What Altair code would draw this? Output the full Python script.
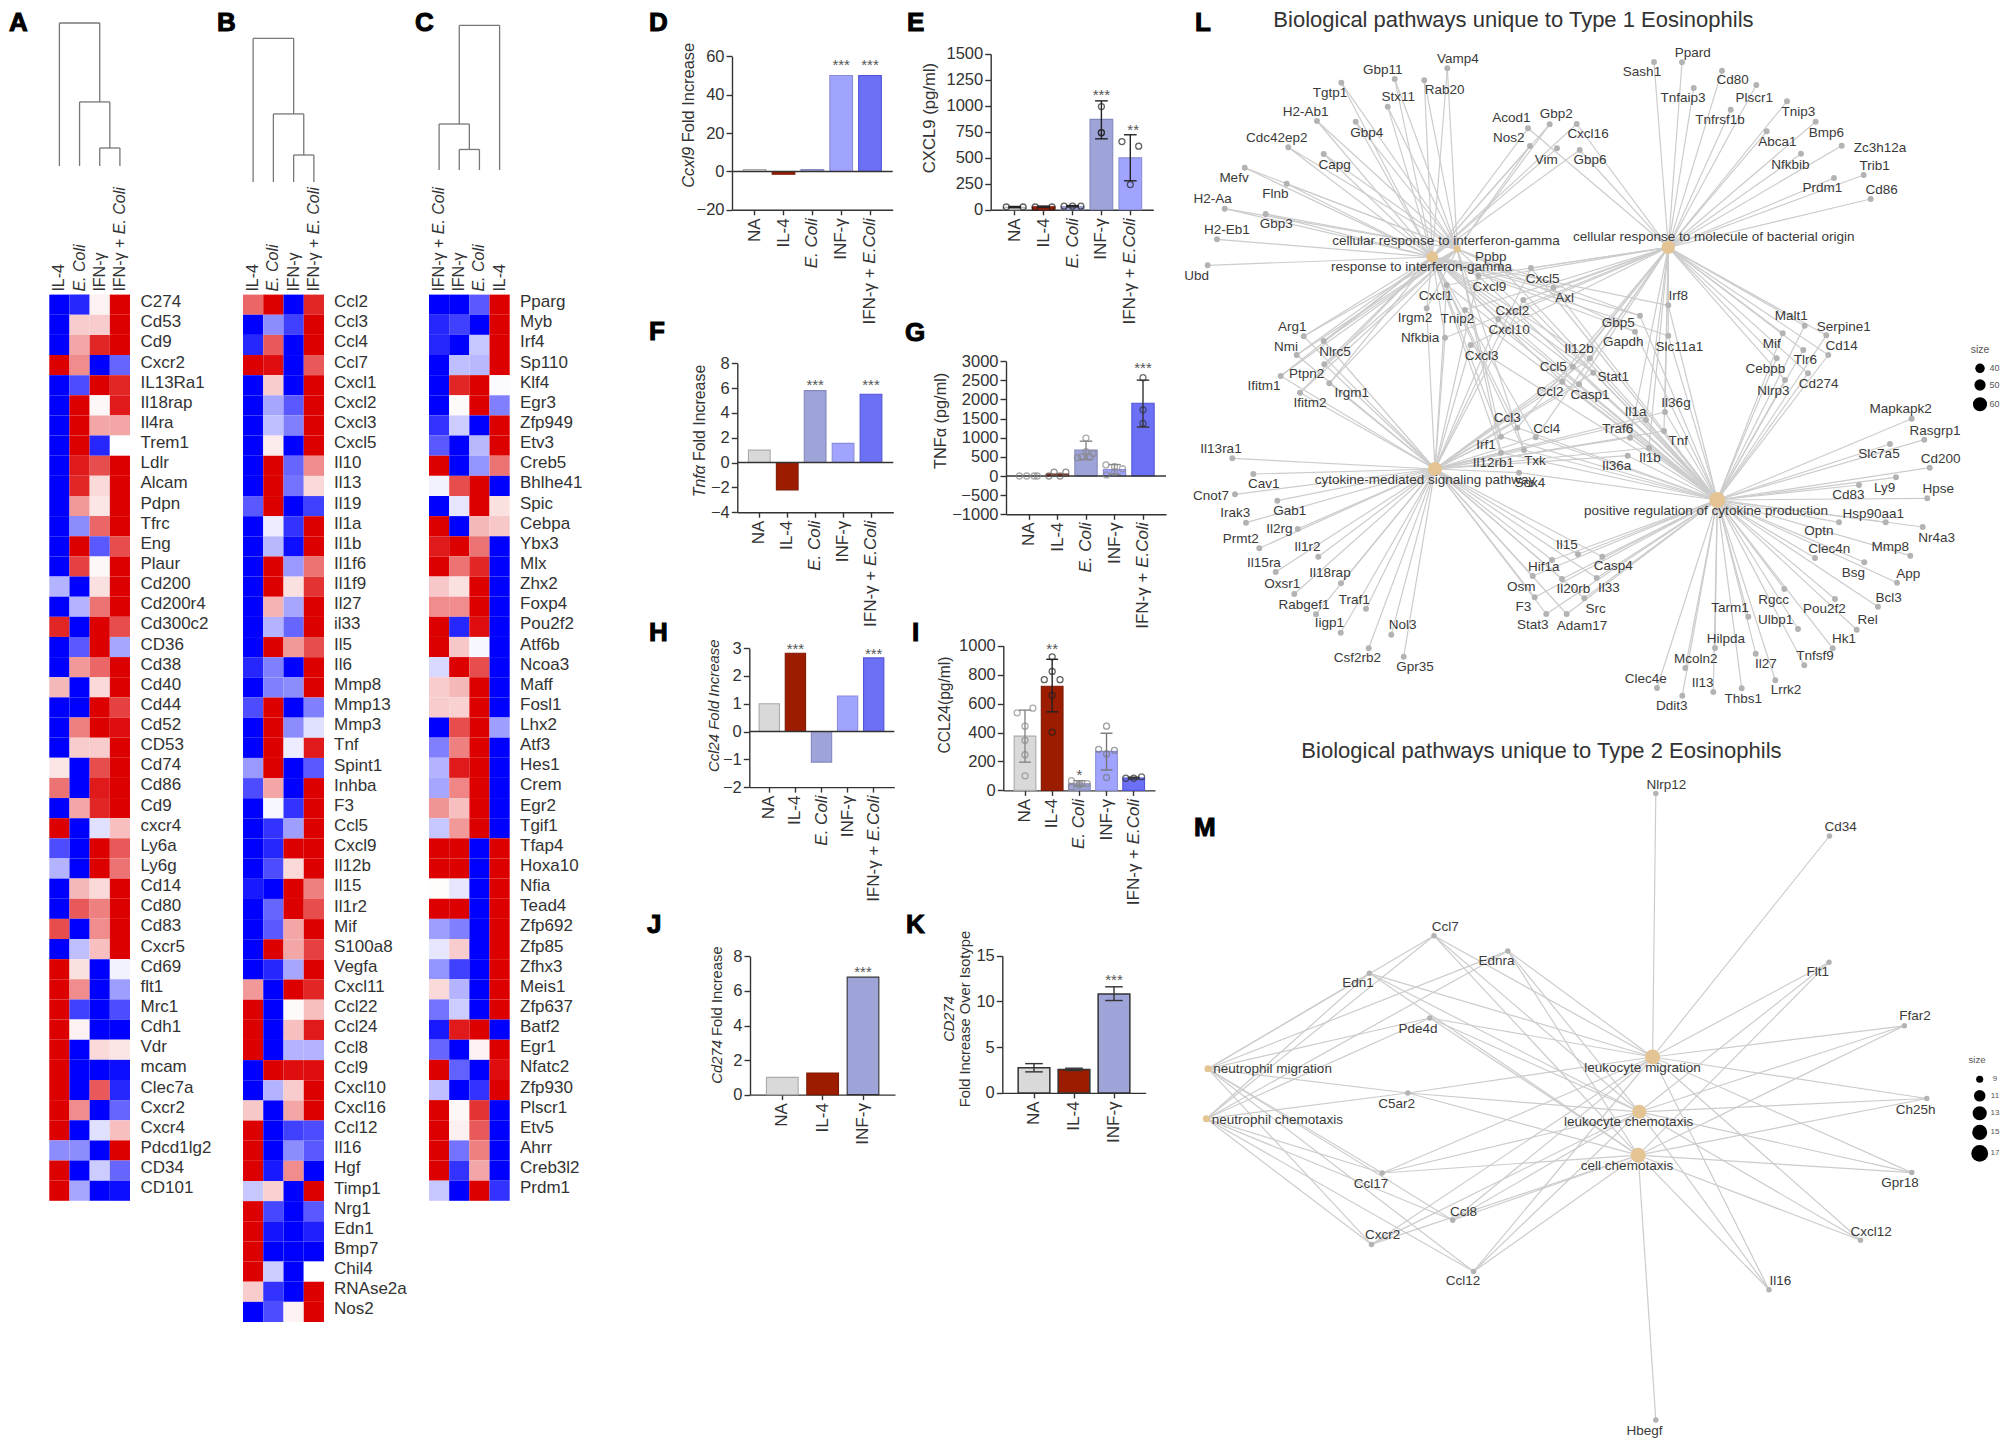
import altair as alt

FONT = "Liberation Sans"
TXT = "#333333"

# ---------- heatmaps ----------
A_COLS = [[("IL-4", 0)], [("E. Coli", 1)], [("IFN-γ", 0)], [("IFN-γ + ", 0), ("E. Coli", 1)]]
C_COLS = [[("IFN-γ + ", 0), ("E. Coli", 1)], [("IFN-γ", 0)], [("E. Coli", 1)], [("IL-4", 0)]]

A_GENES = ["C274","Cd53","Cd9","Cxcr2","IL13Ra1","Il18rap","Il4ra","Trem1","Ldlr","Alcam","Pdpn","Tfrc","Eng","Plaur","Cd200","Cd200r4","Cd300c2","CD36","Cd38","Cd40","Cd44","Cd52","CD53","Cd74","Cd86","Cd9","cxcr4","Ly6a","Ly6g","Cd14","Cd80","Cd83","Cxcr5","Cd69","flt1","Mrc1","Cdh1","Vdr","mcam","Clec7a","Cxcr2","Cxcr4","Pdcd1lg2","CD34","CD101"]
A_VALUES = [
[-1,-.85,.05,1],[-1,.2,.2,1],[-1,.35,.85,1],[1,.45,-1,-.6],[-1,-.7,1,.85],[-1,1,.03,.9],[-1,1,.35,.35],[-1,1,-.85,0],[-1,.9,.7,1],[-1,.85,.15,1],
[-1,.4,.1,1],[-1,-.45,.6,1],[-1,1,-.65,.7],[-1,.75,.03,1],[-.3,-1,.12,1],[-1,-.3,.55,1],[.85,-1,1,.7],[-1,-.65,1,-.35],[-1,.4,.6,1],[.28,-1,.15,1],
[-1,-1,1,.75],[-1,.5,1,.95],[-1,.2,.2,1],[.1,-1,.7,1],[.55,-1,.9,1],[-1,.35,.85,1],[1,-1,-.12,.25],[-.7,-1,1,.65],[-.3,-1,1,.55],[-1,.28,.15,1],
[-1,.65,.5,1],[.7,-1,.45,1],[-1,-.25,.25,1],[1,.12,-1,-.05],[1,.45,-1,-.38],[1,-.75,-1,-.7],[1,.05,-1,-1],[1,-1,.15,.1],[1,-1,-1,-.95],[1,-1,.65,-.85],
[1,.45,-1,-.6],[1,-1,-.12,.25],[-.45,-.45,-1,1],[1,-1,-.2,-.6],[1,-.35,-1,-.95]]

B_GENES = ["Ccl2","Ccl3","Ccl4","Ccl7","Cxcl1","Cxcl2","Cxcl3","Cxcl5","Il10","Il13","Il19","Il1a","Il1b","Il1f6","Il1f9","Il27","il33","Il5","Il6","Mmp8","Mmp13","Mmp3","Tnf","Spint1","Inhba","F3","Ccl5","Cxcl9","Il12b","Il15","Il1r2","Mif","S100a8","Vegfa","Cxcl11","Ccl22","Ccl24","Ccl8","Ccl9","Cxcl10","Cxcl16","Ccl12","Il16","Hgf","Timp1","Nrg1","Edn1","Bmp7","Chil4","RNAse2a","Nos2"]
B_VALUES = [
[.6,1,-1,.85],[-1,-.45,-.75,1],[-.85,.65,-1,1],[1,.95,-1,.65],[-1,.2,-1,1],[-1,-.35,-.65,1],[-1,-.25,-.5,1],[-1,.08,-1,1],[-1,1,-.6,.45],[-1,1,-.55,.15],
[-.65,1,-1,-.75],[-1,-.07,-.8,1],[-1,-.28,-.95,1],[-1,1,-.4,.55],[-1,1,.12,.8],[-1,.3,-.35,1],[-1,-.3,-.6,1],[-1,1,.4,.7],[-.85,-.5,-1,1],[-1,-.5,-.45,1],
[-.7,1,-1,-.5],[-1,1,-.45,-.12],[-1,1,-.07,.9],[-.4,1,-1,-.65],[-.7,.35,-1,1],[-1,-.03,-.8,1],[-1,-.8,-.38,1],[-1,-.85,1,1],[-1,-.7,.15,1],[-.9,-1,1,.5],
[-1,-.6,1,.7],[-1,-.65,.35,1],[-1,1,.35,.75],[-1,-.85,-.35,1],[.4,-1,1,.85],[1,-1,.02,.25],[1,-1,.25,.9],[1,-1,-.3,-.3],[-1,1,.95,.95],[-1,-.3,.2,1],
[.22,-1,.35,1],[1,-1,-.75,-.7],[1,-1,-.45,-.65],[1,-.9,.45,-1],[-.22,.18,-1,1],[1,-.72,-1,-.65],[1,-.92,-1,-.88],[1,-1,-1,-1],[1,-.2,-1,0],[.2,-.8,-1,1],[-1,-.7,.05,1]]

C_GENES = ["Pparg","Myb","Irf4","Sp110","Klf4","Egr3","Zfp949","Etv3","Creb5","Bhlhe41","Spic","Cebpa","Ybx3","Mlx","Zhx2","Foxp4","Pou2f2","Atf6b","Ncoa3","Maff","Fosl1","Lhx2","Atf3","Hes1","Crem","Egr2","Tgif1","Tfap4","Hoxa10","Nfia","Tead4","Zfp692","Zfp85","Zfhx3","Meis1","Zfp637","Batf2","Egr1","Nfatc2","Zfp930","Plscr1","Etv5","Ahrr","Creb3l2","Prdm1"]
C_VALUES = [
[-1,-1,-.65,1],[-.85,-.75,-1,1],[-.85,-1,-.22,1],[-1,-.25,-.28,1],[-1,.85,1,-.02],[-1,.02,1,-.5],[-.8,-.2,-1,1],[-.65,-1,-.28,1],[1,-1,-.42,.55],[-.05,.7,1,-1],
[-1,-.1,1,.12],[1,-1,.28,.22],[.9,1,.55,-1],[1,.55,.85,-1],[.22,.12,1,-1],[.45,.45,1,-1],[1,-.85,.95,-1],[1,.22,-.03,-1],[-.15,1,.7,-1],[.2,.28,1,-1],
[.2,.18,1,-1],[-1,.7,1,-.38],[-.5,.5,1,-1],[-.3,.9,1,-1],[-.35,.48,1,-1],[.42,.25,1,-1],[-.22,.4,1,-1],[1,1,-1,1],[1,1,-1,1],[.01,-.1,-1,1],
[1,1,-1,1],[-.38,-.5,-1,1],[-.1,.2,-1,1],[-.42,-.75,-1,1],[.15,-.3,-1,1],[-.55,-.2,-1,1],[-.9,.9,1,-1],[-.6,-1,.05,1],[1,-.62,-1,.95],[-.25,-1,-.8,1],
[1,.03,.8,-1],[1,.06,.65,-1],[1,-.55,.5,-1],[1,-.8,.35,-1],[-.22,-1,1,-.8]]

# dendrogram merges: left leg, right leg, left base, right base, merge height
A_TREE = [(2,3,0,0,.126),(1,2.5,0,.126,.448),(0,2,0,.448,1)]
B_TREE = [(2,3,0,0,.188),(1,2.5,0,.188,.474),(0,2,0,.474,1)]
C_TREE = [(1,2,0,0,.142),(0,1.5,0,.142,.318),(1,3,.318,0,1)]

# ---------- bars ----------
CATS5 = [[("NA",0)],[("IL-4",0)],[("E. Coli",1)],[("INF-γ",0)],[("IFN-γ + ",0),("E.Coli",1)]]
CATS3 = [[("NA",0)],[("IL-4",0)],[("INF-γ",0)]]
GREY, BRICK, MUTED, PERI, BLUE = "#d9d9d9","#9c1c00","#9ea3d8","#a0a4ff","#6b70f5"
EDGES = {GREY:"#aaaaaa",BRICK:"#7d1a04",MUTED:"#8388bd",PERI:"#8a8ed8",BLUE:"#5055d8"}

D_VALUES=[1,-1.5,1,50,50]
E_VALUES=[25,30,30,870,500]
F_VALUES=[1,-2.2,5.8,1.55,5.5]
G_VALUES=[0,50,680,170,1900]
H_VALUES=[1,2.82,-1.1,1.28,2.65]
I_VALUES=[375,720,45,270,85]
J_VALUES=[1,1.25,6.8]
K_VALUES=[2.75,2.55,10.8]
D_FILL=[GREY,BRICK,MUTED,PERI,BLUE]
E_FILL=[GREY,BRICK,MUTED,MUTED,PERI]
J_FILL=[GREY,BRICK,MUTED]
# stars: category, y position in axis units, text
D_STARS=[(3,57,"***"),(4,57,"***")]
E_STARS=[(3,1131,"***"),(4.1,800,"**")]
F_STARS=[(2,6.5,"***"),(4,6.5,"***")]
G_STARS=[(4,2900,"***")]
H_STARS=[(1,3.09,"***"),(4,2.91,"***")]
I_STARS=[(1,1000,"**"),(2,128,"*")]
J_STARS=[(2,7.28,"***")]
K_STARS=[(2,12.65,"***")]
# individual replicates: category + jitter, value
E_POINTS=[(-.29,27),(.29,27),(.71,27),(1.29,27),(1.71,35),(2,35),(2.29,35),(3,993),(3,742),(3,742),(3.71,656),(4.29,612),(4,243)]
G_POINTS=[(-.34,0),(-.08,0),(.18,0),(.29,0),(.7,0),(.88,100),(1.09,0),(1.29,100),(2,990),(1.7,480),(2,640),(2.25,590),(1.85,500),(2.15,500),(2.7,290),(3,245),(3.28,190),(2.72,30),(3,100),(4,2570),(4,1730),(4,1375)]
I_POINTS=[(-.29,536),(.29,568),(0,444),(0,346),(0,247),(0,101),(1,923),(1,822),(.71,765),(1.29,765),(1,657),(1,402),(1.71,67),(2,47),(2.29,47),(1.71,22),(2,37),(2.71,284),(3.29,277),(3,444),(3,252),(3,89),(3.71,84),(4.29,94),(4,84)]
# error bars: category, low, high
E_ERR=[(0,20,32),(1,22,36),(2,28,40),(3,683,1048),(4,279,722)]
G_ERR=[(2,430,910),(3,50,300),(4,1280,2505)]
I_ERR=[(0,195,555),(1,543,906),(2,30,67),(3,141,395),(4,79,91)]
K_ERR=[(0,2.3,3.2),(1,2.45,2.7),(2,10.1,11.6)]
E_INK=["#222222"]*5
G_INK=["#888888","#666666","#888888","#888888","#333333"]
I_INK=["#888888","#222222","#888888","#777777","#333333"]
K_INK=["#333333"]*3

# ---------- network L (page-layout coordinates) ----------
L_HUBS = {"RIG":("response to interferon-gamma",1432.3,257,133,1421.5,267.3),
          "CRI":("cellular response to interferon-gamma",1457.3,249,50,1446,240.7),
          "CRB":("cellular response to molecule of bacterial origin",1668.3,247.3,177,1713.8,236.7),
          "CMS":("cytokine-mediated signaling pathway",1435,469,200,1425,480),
          "PRC":("positive regulation of cytokine production",1717.3,500,255,1706,511.3)}
L_IFN_BOTH=[("Vamp4",1447.3,68.3,1458,59.3),("Gbp11",1394.7,79,1382.7,70.3),("Rab20",1424.3,80.3,1444.7,90.3),("Tgtp1",1341.3,82.7,1330,93.3),("Stx11",1387.7,106.7,1398.3,97),("H2-Ab1",1317,121,1305.7,111.7),("Gbp4",1355.7,121.7,1366.7,132.7),("Cdc42ep2",1288.3,147.3,1276.7,138.3),("Capg",1323.7,154,1334.7,165),("Mefv",1244.7,167.7,1234,178.3),("Flnb",1286.7,183.7,1275.3,194),("H2-Aa",1224.7,208.7,1212.7,199.3),("Gbp3",1265.7,214,1276.3,224.3),("Nos2",1530,146,1508.7,138.3),("Gbp2",1549.7,124.3,1556.3,114.3)]
L_IFN_ONE=[("H2-Eb1",1217,239.3,1227,230.3),("Ubd",1207.7,265.3,1196.7,276),("Vim",1557,148.3,1546.3,159.7)]
L_IFN_BACT=[("Acod1",1528,128.3,1511.3,118.3),("Cxcl16",1576.7,124,1588,133.7),("Gbp6",1579.7,150,1590,160)]
L_BACT=[("Ppard",1682,62.3,1692.7,52.7),("Sash1",1654,62,1642,72),("Cd80",1722,70.7,1732.7,80),("Plscr1",1756.3,85,1754.3,97.7),("Tnfaip3",1693.7,88,1683,98.3),("Tnfrsf1b",1730.7,109.7,1720,120),("Tnip3",1787,101.3,1798.3,112),("Bmp6",1815.7,121.7,1826.3,132.7),("Abca1",1766.7,131.3,1777.3,142),("Zc3h12a",1841.7,145.7,1880,148),("Nfkbib",1801,153.7,1790.3,164.7),("Trib1",1863.7,175,1874.7,165.7),("Prdm1",1834,178,1822.3,188.3),("Cd86",1870.7,199,1881.7,189.7)]
L_BACT_PROD=[("Malt1",1804.7,325.7,1791.3,316),("Serpine1",1826.3,335.3,1843.7,326.7),("Mif",1782.7,333.3,1771.7,344),("Cd14",1828.3,355,1841.7,345.7),("Tlr6",1803.3,350,1805.3,359.7),("Cebpb",1776.7,358.3,1765.3,369),("Nlrp3",1785,380,1773.3,390.7),("Cd274",1808,373.3,1818.7,384.3),("Tnip2",1465,310,1457.3,319.3)]
L_SIGNAL=[("Il13ra1",1232.3,458.3,1221,449),("Cav1",1253.3,474,1263.7,484.3),("Cnot7",1235,494.3,1211,495.7),("Gab1",1277.3,500.7,1289.7,511),("Irak3",1246,522.7,1235.3,513.3),("Il2rg",1297.7,529,1279.3,528.7),("Prmt2",1259.3,548.3,1240.7,539),("Il1r2",1318.3,556.7,1307.3,547.3),("Il15ra",1275.7,572,1264,562.7),("Il18rap",1341,583.3,1330,573.3),("Oxsr1",1294.3,594,1282.3,584.3),("Traf1",1366,608.7,1354.3,599.7),("Rabgef1",1316,614.3,1304,605),("Iigp1",1340.7,632.7,1329.3,623.3),("Nol3",1391.3,634.7,1402.7,625),("Csf2rb2",1368.7,648.3,1357.3,658.3),("Gpr35",1403.7,656.7,1415,666.7)]
L_IFN_SIGNAL=[("Arg1",1303.7,336.3,1292.3,327.3),("Nmi",1296.7,355,1286,346.7),("Nlrc5",1323.7,341,1335,351.7),("Ptpn2",1324.3,364.3,1306.7,374),("Ifitm1",1280.7,376,1264,385.7),("Ifitm2",1300,392.7,1310,403.3),("Irgm1",1329.3,383.3,1351.7,392.7),("Irgm2",1426.7,308.3,1415,318.3)]
L_PROD=[("Mapkapk2",1911.7,418.7,1900.7,409.3),("Rasgrp1",1924.3,439.7,1935,430.7),("Slc7a5",1890,444,1879,454.3),("Cd200",1929.7,467.7,1940.7,458.7),("Ly9",1896,477.3,1884.7,487.7),("Cd83",1859,485,1848.3,495),("Hpse",1927.3,498.3,1938.3,489.3),("Hsp90aa1",1885.7,522.3,1873.3,513.7),("Nr4a3",1922.7,527,1936.7,537.7),("Optn",1839,522.3,1819,531),("Mmp8",1910.3,555.7,1890.3,546.7),("Clec4n",1815,558,1829.3,549),("Bsg",1864.3,562.3,1853.3,572.7),("App",1897,582.7,1908.3,573.7),("Bcl3",1878,606.7,1888.7,597.7),("Rgcc",1784.3,589,1773.7,599.7),("Pou2f2",1835,599,1824.3,608.7),("Rel",1856.7,629.7,1867.7,620),("Tarm1",1748.3,616.7,1730,607.7),("Ulbp1",1798,629,1775.7,620),("Hk1",1832.7,648.3,1844,639.3),("Hilpda",1715,648,1726,638.7),("Il27",1755.7,653.7,1766,664.3),("Tnfsf9",1804.3,665.3,1815,656),("Mcoln2",1685.3,668,1695.7,658.7),("Lrrk2",1775.3,680.3,1786,690),("Clec4e",1657,688,1645.7,678.7),("Il13",1713.3,692,1702.7,682.7),("Thbs1",1741.7,688.3,1743.3,698.7),("Ddit3",1682.3,695.7,1671.7,706)]
L_SIGNAL_PROD=[("Il15",1578,554.3,1567,545),("Hif1a",1552,560,1543.7,567.3),("Osm",1532.7,576,1521.3,587),("Il20rb",1562,579,1573.3,589.3),("F3",1534.7,597.3,1523.3,607.3),("Stat3",1546.3,614,1532.7,625),("Adam17",1566.7,614,1582,626),("Casp4",1602.3,556.7,1613.3,566.3),("Il33",1596.7,578,1609,588),("Src",1584.3,598.3,1595.7,608.7),("Il36a",1627.7,455.7,1616.7,466),("Sox4",1519,472.7,1530,483.3)]
L_BACT_SIGNAL_PROD=[("Cxcl2",1523.3,300,1512.3,310.7),("Cxcl3",1470.7,345,1481.7,355.7),("Cxcl5",1531,268,1542.7,278.7),("Il1a",1646,420,1635.7,411.7),("Il36g",1665,412,1676,403.3),("Tnf",1664,431,1678.3,441),("Traf6",1630,437.7,1617.7,429),("Il1b",1649,448,1650,458.3)]
L_ALL=[("Cxcl1",1446.7,285,1435.7,295.7),("Cxcl9",1478.3,276,1489.3,286.7),("Cxcl10",1498.3,319.3,1509,330),("Il12b",1590,358.3,1579,349.3),("Ccl5",1572.7,366.7,1553.3,367),("Ccl2",1562.3,381.7,1550,392),("Ccl3",1517.3,427.7,1507.3,418.3),("Ccl4",1535.7,437.3,1546.7,429),("Casp1",1579,384.3,1590,395)]
L_IFN_SIGNAL_PROD=[("Stat1",1593.3,372.7,1613.3,377),("Irf1",1501,436.7,1486,445.3),("Il12rb1",1501,452.7,1493.3,463.3),("Txk",1524,450,1535,460.7)]
L_IFN_PROD=[("Ppbp",1501,268,1490.7,256.7),("Gbp5",1640,315.7,1618.3,322.7),("Gapdh",1635,331.7,1623.3,341.7)]
L_IFN_BACT_PROD=[("Axl",1553.3,287.7,1564.7,297.7),("Irf8",1668.3,305.3,1678.3,296),("Slc11a1",1668.3,335.7,1679.3,346.7)]
L_IFN_BACT_SIGNAL=[("Nfkbia",1445,337.7,1420,337.7)]
L_GROUPS=[(L_IFN_BOTH,["RIG","CRI"]),(L_IFN_ONE,["RIG"]),(L_IFN_BACT,["RIG","CRB"]),(L_BACT,["CRB"]),(L_BACT_PROD,["CRB","PRC"]),
          (L_SIGNAL,["CMS"]),(L_IFN_SIGNAL,["RIG","CRI","CMS"]),(L_PROD,["PRC"]),(L_SIGNAL_PROD,["CMS","PRC"]),
          (L_BACT_SIGNAL_PROD,["CRB","CMS","PRC"]),(L_ALL,["RIG","CRB","CMS","PRC"]),(L_IFN_SIGNAL_PROD,["RIG","CRI","CMS","PRC"]),
          (L_IFN_PROD,["RIG","CRI","PRC"]),(L_IFN_BACT_PROD,["RIG","CRB","PRC"]),(L_IFN_BACT_SIGNAL,["RIG","CRB","CMS"])]

# ---------- network M ----------
M_HUBS = {"LM":("leukocyte migration",1652.6,1057,227,1642.5,1067.5),
          "LC":("leukocyte chemotaxis",1639.3,1111.8,200,1628.6,1122.3),
          "CC":("cell chemotaxis",1638.2,1155.2,227,1627,1165.8),
          "NM":("neutrophil migration",1208,1068.8,50,1272.6,1069.3),
          "NC":("neutrophil chemotaxis",1206.3,1118.7,50,1277.4,1119.6)}
M_ONLY_LM=[("Nlrp12",1655.8,793.6,1666.5,784.9),("Cd34",1829.5,836,1840.7,827.4)]
M_ONLY_CC=[("Hbegf",1655.8,1420,1644.6,1431)]
M_THREE=[("Flt1",1829,962.3,1817.8,972.3),("Ffar2",1904.4,1025.8,1915,1015.8),("Ch25h",1926.8,1098.5,1915.6,1109.5),("Gpr18",1911.8,1172.6,1900,1183),("Cxcl12",1860.5,1240.3,1871.2,1231.6),("Il16",1769,1289.7,1780.4,1280.5)]
M_FIVE=[("Ccl7",1434,935.8,1445.2,927),("Ednra",1507.8,950.9,1496.6,960.9),("Edn1",1369.4,973.3,1358.1,983.3),("Pde4d",1429.8,1018,1418,1029),("C5ar2",1407.8,1093,1396.6,1103.6),("Ccl17",1382.2,1173,1371,1183.6),("Ccl8",1452.7,1220.2,1463.4,1211.5),("Cxcr2",1371.5,1244.4,1382.7,1235.3),("Ccl12",1473.6,1271.4,1462.9,1281.4)]
M_GROUPS=[(M_ONLY_LM,["LM"]),(M_ONLY_CC,["CC"]),(M_THREE,["LM","LC","CC"]),(M_FIVE,["LM","LC","CC","NM","NC"])]

L_LEGEND=[(40,1980,368.3,90),(50,1980,385,127),(60,1980,404.3,200)]
M_LEGEND=[(9,1979.7,1079.3,50),(11,1979.7,1095.8,133),(13,1979.7,1113.2,200),(15,1979.7,1132.4,227),(17,1979.7,1153.4,283)]

LETTERS=[("A",9,23),("B",217,23),("C",415,23),("D",649,23),("E",907,23),("F",649,332),("G",905,332.6),("H",649,633),("I",912,632.5),("J",647,924.5),("K",906,925),("L",1195,23),("M",1194,828)]

# ---------- helpers ----------
W=1992; H=1431
def V(p): return p-8
CW={"I":.278,"i":.222,"l":.222,"t":.278,"f":.278,"r":.333,"F":.611,"N":.722,"-":.333," ":.278,"+":.584,"E":.667,".":.278,"C":.722,"c":.5,"x":.5,"y":.5,"s":.5,"k":.5,"v":.5,"A":.667,"L":.556,"T":.611,"X":.667,"D":.722,"O":.778,"m":.833,"w":.722,"(":.333,")":.333,"/":.278,"γ":.5,"z":.5}
def width(s,fs): return sum(CW.get(ch,.556) for ch in s)*fs

layers=[]
def rich(parts,x,y,fs,angle=0,anchor="middle",color=TXT,extra=None):
    total=sum(width(p,fs) for p,_ in parts)
    cum={"middle":-total/2,"end":-total,"start":0}[anchor]
    for p,it in parts:
        lead=width(p,fs)-width(p.lstrip(),fs)
        row={"t":p.strip()}
        if extra: row.update(extra)
        kw=dict(fontSize=fs,font=FONT,color=color,align="left",baseline="middle",dx=cum+lead)
        if angle: kw["angle"]=angle
        if it: kw["fontStyle"]="italic"
        layers.append(alt.Chart(alt.Data(values=[row])).mark_text(**kw).encode(x=x,y=y,text=alt.Text("t:N")))
        cum+=width(p,fs)

def q(d,r): return alt.Scale(type="linear",domain=d,range=r,nice=False,zero=False)

def heat(genes,vals,cols,tree,x0,x1,top,bottom,label_x,dtop,dbot):
    n=len(genes)
    xs=alt.Scale(type="band",domain=[0,1,2,3],range=[V(x0),V(x1)],paddingInner=0,paddingOuter=0)
    ys=alt.Scale(type="band",domain=list(range(n)),range=[V(top),V(bottom)],paddingInner=0,paddingOuter=0)
    rows=[{"r":r,"c":c,"v":v} for r,row in enumerate(vals) for c,v in enumerate(row)]
    layers.append(alt.Chart(alt.Data(values=rows)).mark_rect().encode(
        x=alt.X("c:O",scale=xs,axis=None),y=alt.Y("r:O",scale=ys,axis=None),
        color=alt.Color("v:Q",scale=alt.Scale(domain=[-1,0,1],range=["#0000ff","#ffffff","#dd0000"],interpolate="rgb"),legend=None)))
    grows=[{"r":r,"g":g} for r,g in enumerate(genes)]
    layers.append(alt.Chart(alt.Data(values=grows)).mark_text(align="left",baseline="middle",font=FONT,fontSize=17,color=TXT,dy=-2.5).encode(
        x=alt.value(V(label_x)),y=alt.Y("r:O",scale=ys,axis=None),text=alt.Text("g:N")))
    step=(x1-x0)/4
    cs=q([0,3],[V(x0+step/2),V(x1-step/2)])
    for i,parts in enumerate(cols):
        rich(parts,alt.X("i:Q",scale=cs,axis=None),alt.value(V(top-3)),16,angle=270,anchor="start",extra={"i":i})
    segs=[]
    for xl,xr,bl,br,h in tree:
        segs+= [{"a":xl,"b":xl,"u":bl,"w":h},{"a":xr,"b":xr,"u":br,"w":h},{"a":xl,"b":xr,"u":h,"w":h}]
    ds=q([0,1],[V(dbot),V(dtop)])
    layers.append(alt.Chart(alt.Data(values=segs)).mark_rule(color="#777777",strokeWidth=1.3).encode(
        x=alt.X("a:Q",scale=cs,axis=None),x2="b:Q",y=alt.Y("u:Q",scale=ds,axis=None),y2="w:Q"))

def bars(values,fills,cats,dom,ticks,ax,ax1,ytop,ybot,c0,cl,bw,yparts,ytx,yty,yfs,stars,zero=False,points=None,errs=None,ink=None,tick_fs=16.5,cat_fs=17,cat_y=None,dark=False):
    n=len(values)
    s=(cl-c0)/(n-1); R=ax1-ax; outer=R-(s*(n-1)+bw); left=c0-bw/2-ax
    xs=alt.Scale(type="band",domain=list(range(n)),range=[V(ax),V(ax1)],paddingInner=1-bw/s,paddingOuter=outer/(2*s),align=left/outer)
    ys=q(dom,[V(ybot),V(ytop)])
    cs=q([0,n-1],[V(c0),V(cl)])
    common=dict(domainColor=TXT,tickColor=TXT,domainWidth=1.4,tickWidth=1.4,grid=False,title=None)
    rows=[{"i":i,"v":v,"f":f,"e":("#333333" if (dark or (f==MUTED and n==3 and i==2)) else EDGES[f])} for i,(v,f) in enumerate(zip(values,fills))]
    layers.append(alt.Chart(alt.Data(values=rows)).mark_bar(strokeWidth=1.5 if dark else 1.1).encode(
        x=alt.X("i:O",scale=xs,axis=alt.Axis(orient="bottom",offset=-(H-V(ybot)),labels=False,tickSize=5,**common)),
        y=alt.Y("v:Q",scale=ys,axis=alt.Axis(orient="left",offset=-V(ax),values=ticks,format="d",tickSize=6,labelFont=FONT,labelFontSize=tick_fs,labelColor=TXT,labelPadding=2,**common)),
        fill=alt.Fill("f:N",scale=None),stroke=alt.Stroke("e:N",scale=None)))
    if zero:
        layers.append(alt.Chart(alt.Data(values=[{"v":0}])).mark_rule(color=TXT,strokeWidth=1.4).encode(
            y=alt.Y("v:Q",scale=ys,axis=None),x=alt.value(V(ax)),x2=alt.value(V(ax1))))
    if errs:
        stems=[{"a":i,"u":lo,"w":hi,"c":ink[i]} for i,lo,hi in errs]
        layers.append(alt.Chart(alt.Data(values=stems)).mark_rule(strokeWidth=1.4).encode(
            x=alt.X("a:Q",scale=cs,axis=None),y=alt.Y("u:Q",scale=ys,axis=None),y2="w:Q",color=alt.Color("c:N",scale=None)))
        caps=[{"a":i-.22,"b":i+.22,"u":u,"c":ink[i]} for i,lo,hi in errs for u in (lo,hi)]
        layers.append(alt.Chart(alt.Data(values=caps)).mark_rule(strokeWidth=1.4).encode(
            x=alt.X("a:Q",scale=cs,axis=None),x2="b:Q",y=alt.Y("u:Q",scale=ys,axis=None),color=alt.Color("c:N",scale=None)))
    if points:
        prow=[{"a":a,"v":v,"c":ink[min(n-1,int(a+.5))]} for a,v in points]
        layers.append(alt.Chart(alt.Data(values=prow)).mark_point(filled=False,size=36,strokeWidth=1.3).encode(
            x=alt.X("a:Q",scale=cs,axis=None),y=alt.Y("v:Q",scale=ys,axis=None),stroke=alt.Stroke("c:N",scale=None)))
    srow=[{"a":a,"v":v,"t":t} for a,v,t in stars]
    layers.append(alt.Chart(alt.Data(values=srow)).mark_text(font=FONT,fontSize=15,color="#555555",baseline="middle",dy=3).encode(
        x=alt.X("a:Q",scale=cs,axis=None),y=alt.Y("v:Q",scale=ys,axis=None),text=alt.Text("t:N")))
    ly=(ybot+8.5) if cat_y is None else cat_y
    for i,parts in enumerate(cats):
        rich(parts,alt.X("i:Q",scale=cs,axis=None),alt.value(V(ly)),cat_fs,angle=270,anchor="end",extra={"i":i})
    rich(yparts,alt.value(V(ytx)),alt.value(V(yty)),yfs,angle=270)

def network(hubs,groups,lab_fs,node_size):
    px=q([0,2008],[-8,2000]); py=q([0,1447],[-8,1439])
    edges=[]; nodes=[]
    for genes,hs in groups:
        for g,nx,ny,lx,ly in genes:
            nodes.append({"g":g,"x":nx,"y":ny,"lx":lx,"ly":ly})
            for h in hs:
                edges.append({"x":nx,"y":ny,"x2":hubs[h][1],"y2":hubs[h][2]})
    layers.append(alt.Chart(alt.Data(values=edges)).mark_rule(color="#cccccc",strokeWidth=1.2).encode(
        x=alt.X("x:Q",scale=px,axis=None),x2="x2:Q",y=alt.Y("y:Q",scale=py,axis=None),y2="y2:Q"))
    layers.append(alt.Chart(alt.Data(values=nodes)).mark_circle(color="#b3b3b3",opacity=1,size=node_size).encode(
        x=alt.X("x:Q",scale=px,axis=None),y=alt.Y("y:Q",scale=py,axis=None)))
    hrows=[{"t":v[0],"x":v[1],"y":v[2],"s":v[3],"lx":v[4],"ly":v[5]} for v in hubs.values()]
    layers.append(alt.Chart(alt.Data(values=hrows)).mark_circle(color="#e5c494",opacity=1).encode(
        x=alt.X("x:Q",scale=px,axis=None),y=alt.Y("y:Q",scale=py,axis=None),size=alt.Size("s:Q",scale=None)))
    layers.append(alt.Chart(alt.Data(values=nodes)).mark_text(font=FONT,fontSize=lab_fs,color="#3a3a3a",baseline="middle").encode(
        x=alt.X("lx:Q",scale=px,axis=None),y=alt.Y("ly:Q",scale=py,axis=None),text=alt.Text("g:N")))
    layers.append(alt.Chart(alt.Data(values=hrows)).mark_text(font=FONT,fontSize=lab_fs,color="#3a3a3a",baseline="middle").encode(
        x=alt.X("lx:Q",scale=px,axis=None),y=alt.Y("ly:Q",scale=py,axis=None),text=alt.Text("t:N")))

def legend(rows,title_x,title_y,lab_x,title_fs,lab_fs):
    px=q([0,2008],[-8,2000]); py=q([0,1447],[-8,1439])
    d=[{"l":l,"x":x,"y":y,"s":s,"lx":lab_x} for l,x,y,s in rows]
    layers.append(alt.Chart(alt.Data(values=d)).mark_circle(color="#000000",opacity=1).encode(
        x=alt.X("x:Q",scale=px,axis=None),y=alt.Y("y:Q",scale=py,axis=None),size=alt.Size("s:Q",scale=None)))
    layers.append(alt.Chart(alt.Data(values=d)).mark_text(font=FONT,fontSize=lab_fs,color="#555555",baseline="middle").encode(
        x=alt.X("lx:Q",scale=px,axis=None),y=alt.Y("y:Q",scale=py,axis=None),text=alt.Text("l:Q")))
    rich([("size",0)],alt.value(V(title_x)),alt.value(V(title_y)),title_fs,color="#555555")

# ---------- build ----------
heat(A_GENES,A_VALUES,A_COLS,A_TREE,49.3,130,294.6,1200.8,140.5,23,166)
heat(B_GENES,B_VALUES,A_COLS,B_TREE,243,324,294.6,1322,334,38.4,182)
heat(C_GENES,C_VALUES,C_COLS,C_TREE,429,509.7,294.6,1200.8,520,25.4,170)

bars(D_VALUES,D_FILL,CATS5,[-20,60],[-20,0,20,40,60],732,892.7,56.3,209.8,754.7,870,22.7,[("Ccxl9",1),(" Fold Increase",0)],689.3,115.3,16.4,D_STARS,zero=True)
bars(E_VALUES,E_FILL,CATS5,[0,1500],[0,250,500,750,1000,1250,1500],990.7,1153.3,53.9,209.8,1014.7,1130.3,22.7,[("CXCL9 (pg/ml)",0)],930,118,16.7,E_STARS,points=E_POINTS,errs=E_ERR,ink=E_INK)
bars(F_VALUES,D_FILL,CATS5,[-4,8],[-4,-2,0,2,4,6,8],737.3,893.3,363.3,512.2,759.3,871,21.7,[("Tnfα",1),(" Fold Increase",0)],699.7,431,15.9,F_STARS,zero=True)
bars(G_VALUES,D_FILL,CATS5,[-1000,3000],[-1000,-500,0,500,1000,1500,2000,2500,3000],1006,1166,361.2,514.3,1029,1143,22.3,[("TNFα (pg/ml)",0)],941,421,16.3,G_STARS,zero=True,points=G_POINTS,errs=G_ERR,ink=G_INK,cat_y=522.5)
bars(H_VALUES,D_FILL,CATS5,[-2,3],[-2,-1,0,1,2,3],749.3,894.3,648.2,787.1,769.3,873.7,20.3,[("Ccl24 Fold Increase",1)],715,705.7,14.9,H_STARS,zero=True)
bars(I_VALUES,D_FILL,CATS5,[0,1000],[0,200,400,600,800,1000],1003.3,1155,645.7,790.4,1025,1133.7,21.7,[("CCL24(pg/ml)",0)],945,705,15.6,I_STARS,points=I_POINTS,errs=I_ERR,ink=I_INK)
bars(J_VALUES,J_FILL,CATS3,[0,8],[0,2,4,6,8],750,895,956.4,1094.6,782.3,863,31.7,[("Cd274",1),(" Fold Increase",0)],718,1015,14.8,J_STARS)
bars(K_VALUES,J_FILL,CATS3,[0,15],[0,5,10,15],1002.3,1145.7,955.7,1092.9,1034,1114,31.7,[("CD274",1)],950,1019,14.7,K_STARS,errs=K_ERR,ink=K_INK,dark=True)
rich([("Fold Increase Over Isotype",0)],alt.value(V(965.7)),alt.value(V(1019)),14.7,angle=270)

network(L_HUBS,L_GROUPS,13.5,35)
network(M_HUBS,M_GROUPS,13.5,30)
legend(L_LEGEND,1980,350,1994.5,10.5,9)
legend(M_LEGEND,1977,1060,1995,9.6,8)

rich([("Biological pathways unique to Type 1 Eosinophils",0)],alt.value(V(1513)),alt.value(V(20)),22)
rich([("Biological pathways unique to Type 2 Eosinophils",0)],alt.value(V(1541)),alt.value(V(750.6)),22)

let=[{"t":t,"x":x,"y":y} for t,x,y in LETTERS]
px=q([0,2008],[-8,2000]); py=q([0,1447],[-8,1439])
layers.append(alt.Chart(alt.Data(values=let)).mark_text(font=FONT,fontSize=26,fontWeight="bold",color="#000000",align="left",baseline="middle",stroke="#000000",strokeWidth=1).encode(
    x=alt.X("x:Q",scale=px,axis=None),y=alt.Y("y:Q",scale=py,axis=None),text=alt.Text("t:N")))

chart=(alt.layer(*layers)
       .resolve_scale(x="independent",y="independent",color="independent")
       .resolve_axis(x="independent",y="independent")
       .properties(width=W,height=H,padding=0,autosize=alt.AutoSizeParams(type="none"))
       .configure_view(stroke=None))
chart.save("out.html",embed_options={"renderer":"svg","actions":False})
